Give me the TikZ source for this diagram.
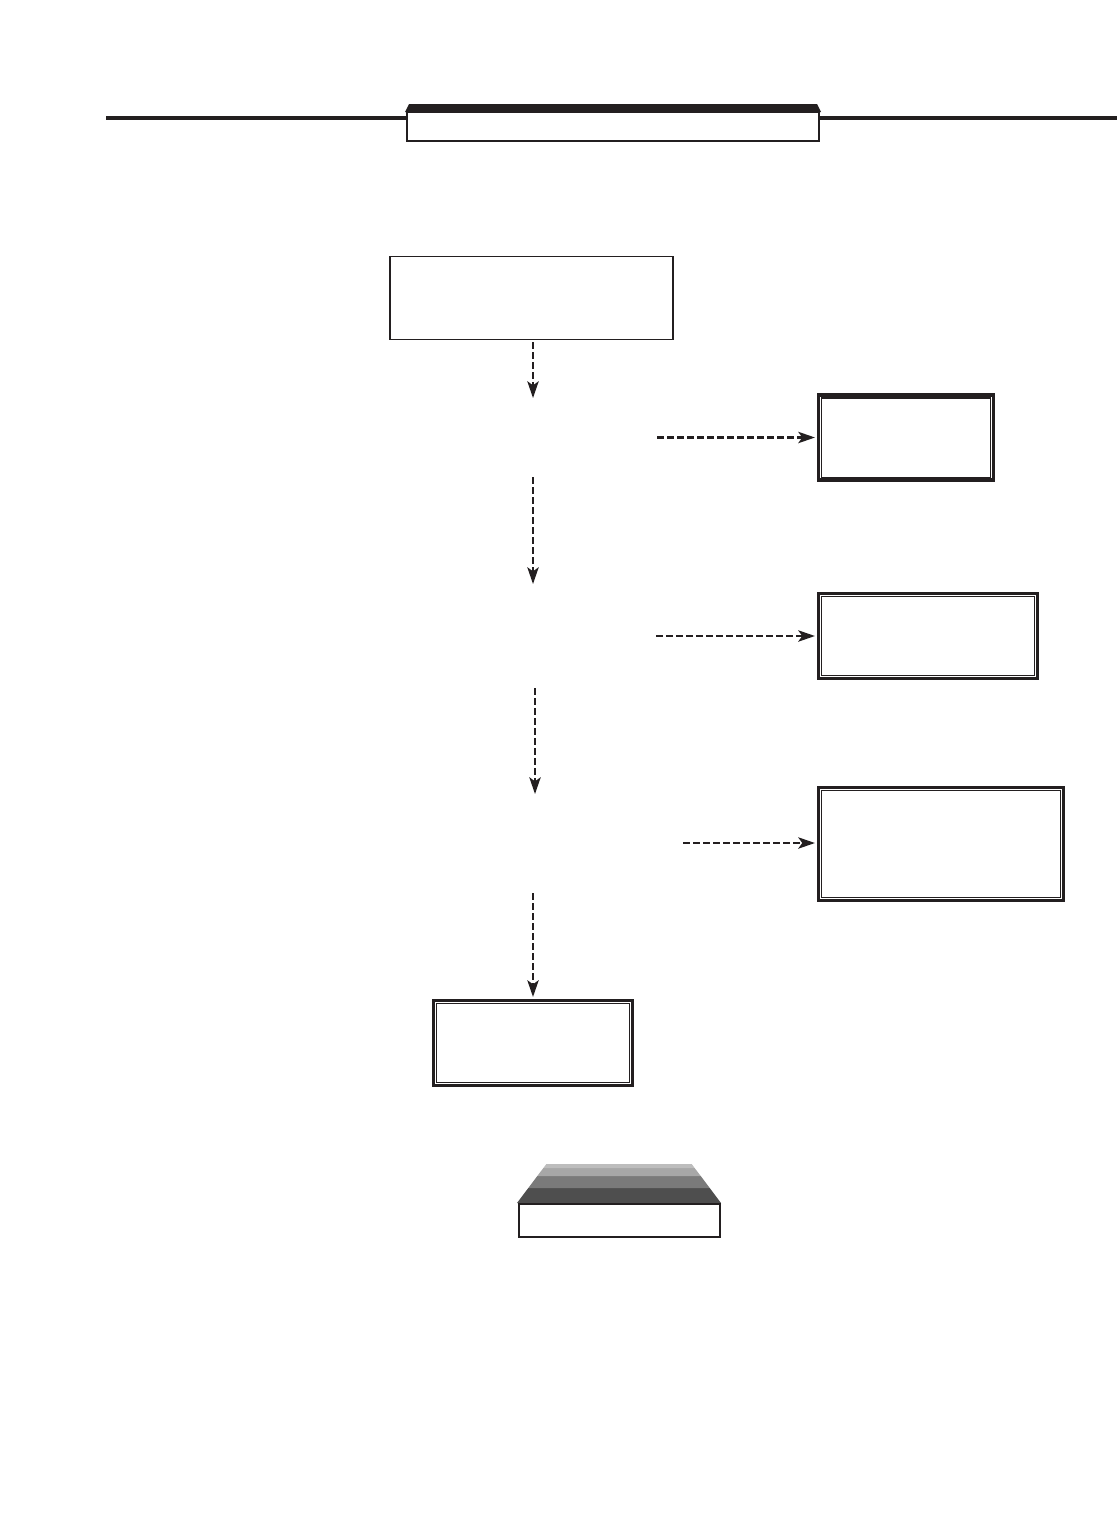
\documentclass[tikz,border=0pt]{standalone}
\usetikzlibrary{arrows.meta}
\definecolor{ink}{HTML}{231F20}
\definecolor{bandA}{HTML}{BDBDBD}
\definecolor{bandB}{HTML}{A7A7A7}
\definecolor{bandC}{HTML}{7A7A7A}
\definecolor{bandD}{HTML}{4E4E4E}
\tikzset{
  plainbox/.style={draw=ink, line width=1.1pt, fill=white, inner sep=0pt},
  framebox/.style={draw=ink, line width=2.6pt, fill=white, inner sep=0pt},
  dasharrow/.style={draw=ink, line width=1.7pt, dash pattern=on 5pt off 2.5pt,
    -{Stealth[length=12.5pt,width=8.5pt,inset=3pt]}},
}
\newcommand{\innerframe}[1]{\draw[ink, line width=0.9pt] ([xshift=3.6pt,yshift=-3.6pt]#1.north west) rectangle ([xshift=-3.6pt,yshift=3.6pt]#1.south east);}
\begin{document}
\begin{tikzpicture}[x=0.75pt,y=-0.75pt]
\fill[white] (0,0) rectangle (1117,1531);
\useasboundingbox (0,0) rectangle (1117,1531);
% header
\draw[ink, line width=3pt] (106,118) -- (1117,118);
\fill[ink] (405,112) -- (409,104) -- (817,104) -- (821,112) -- cycle;
\node[draw=ink, line width=1.6pt, fill=white, inner sep=0pt, minimum width=309pt, minimum height=22pt] (hdr) at (613,126.5) {};
% boxes
\node[plainbox, minimum width=212.5pt, minimum height=62pt] (b1) at (531.5,298) {};
\node[framebox, minimum width=131pt, minimum height=64pt] (b2) at (906,437.5) {};
\node[framebox, minimum width=164pt, minimum height=63.5pt] (b3) at (928,636) {};
\node[framebox, minimum width=183.5pt, minimum height=84.5pt] (b4) at (941,844) {};
\node[framebox, minimum width=149pt, minimum height=63.5pt] (b5) at (533,1043) {};
\innerframe{b2}
\innerframe{b3}
\innerframe{b4}
\innerframe{b5}
% free ends
\coordinate (v1e) at (533,398);
\coordinate (v2s) at (533,477);
\coordinate (v2e) at (533,584);
\coordinate (v3s) at (535,688);
\coordinate (v3e) at (535,794);
\coordinate (v4s) at (533,893);
\coordinate (h1s) at (657,437.5);
\coordinate (h2s) at (656,636);
\coordinate (h3s) at (683,843);
% connectors
\draw[dasharrow] (b1.south -| v1e) ++(0,2) -- (v1e);
\draw[dasharrow] (v2s) -- (v2e);
\draw[dasharrow] (v3s) -- (v3e);
\draw[dasharrow] (v4s) -- ([yshift=1.5pt]v4s |- b5.north);
\draw[dasharrow] (h1s) -- ([xshift=-1.5pt]b2.west |- h1s);
\draw[dasharrow] (h2s) -- ([xshift=-1.5pt]b3.west |- h2s);
\draw[dasharrow] (h3s) -- ([xshift=-1.5pt]b4.west |- h3s);
% bottom graded block
\fill[bandD] (517,1203) -- (721,1203) -- (709.7,1188) -- (528.3,1188) -- cycle;
\fill[bandC] (528.3,1188) -- (709.7,1188) -- (700.7,1176) -- (537.3,1176) -- cycle;
\fill[bandB] (537.3,1176) -- (700.7,1176) -- (694.6,1168) -- (543.4,1168) -- cycle;
\fill[bandA] (543.4,1168) -- (694.6,1168) -- (691.7,1164) -- (546.4,1164) -- cycle;
\node[plainbox, line width=1.5pt, minimum width=151pt, minimum height=25pt] (bot) at (619.5,1220.5) {};
\end{tikzpicture}
\end{document}
